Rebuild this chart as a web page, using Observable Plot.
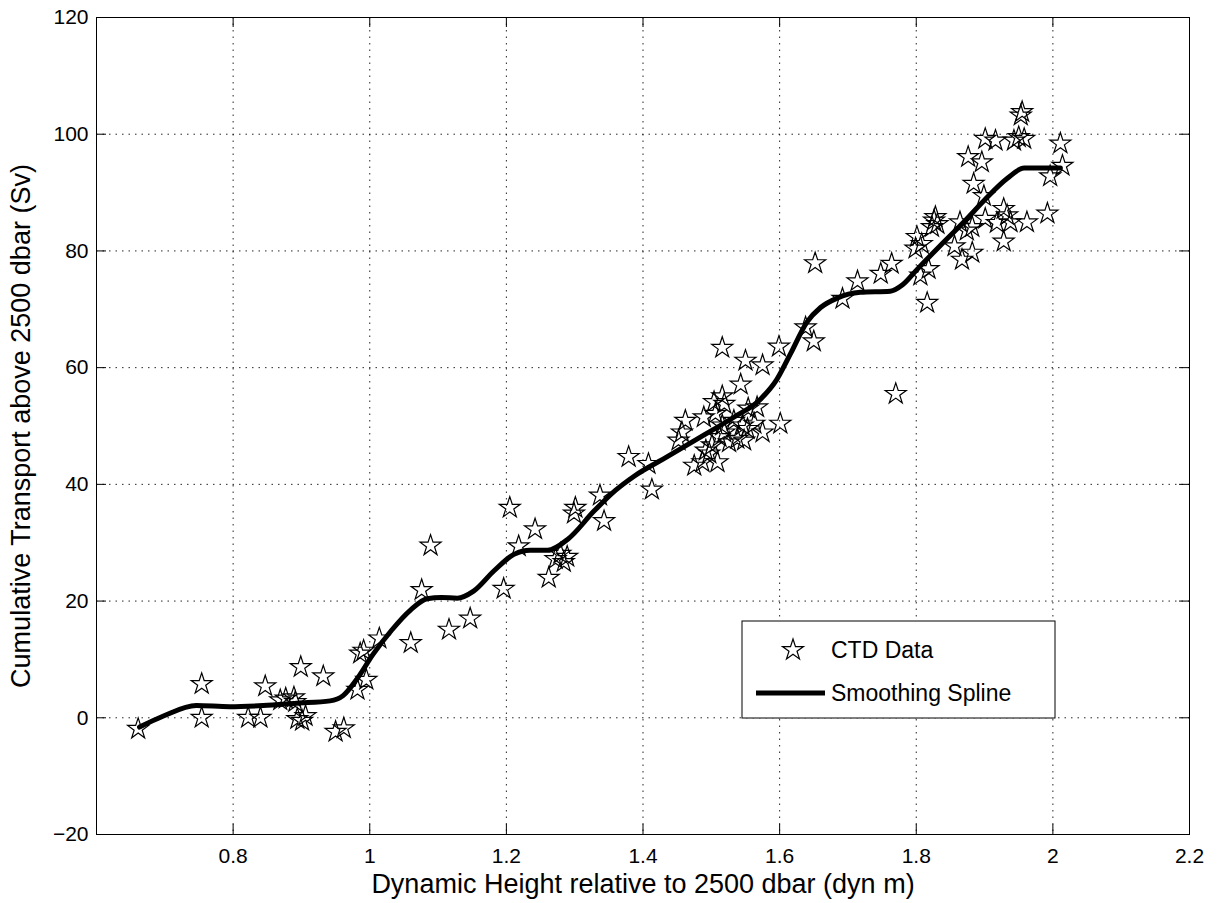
<!DOCTYPE html>
<html>
<head>
<meta charset="utf-8">
<script src="https://cdn.jsdelivr.net/npm/d3@7"></script>
<script src="https://cdn.jsdelivr.net/npm/@observablehq/plot@0.6"></script>
<style>
  html, body { margin: 0; padding: 0; background: #fff; }
  #chart { width: 1222px; height: 903px; }
</style>
</head>
<body>
<div id="chart"></div>
<script>
// CTD stations: dynamic height (dyn m) and cumulative transport (Sv)
const ctdHeight = [
  0.661, 0.754, 0.754, 0.822, 0.840, 0.847, 0.869, 0.877, 0.889, 0.891,
  0.894, 0.901, 0.906, 0.899, 0.932, 0.950, 0.962, 0.982, 0.995, 0.986,
  0.991, 1.014, 1.060, 1.076, 1.089, 1.116, 1.147, 1.196, 1.205, 1.218,
  1.242, 1.262, 1.272, 1.279, 1.284, 1.289, 1.299, 1.301, 1.337, 1.343,
  1.379, 1.408, 1.413,
  1.452, 1.457, 1.462, 1.475, 1.487, 1.489, 1.492, 1.497, 1.501, 1.504,
  1.506, 1.509, 1.512, 1.516, 1.516, 1.519, 1.519, 1.526, 1.533, 1.538,
  1.543, 1.546, 1.548, 1.553, 1.554, 1.563, 1.567, 1.575, 1.601, 1.516,
  1.550, 1.575, 1.599, 1.638, 1.650, 1.652, 1.692, 1.714, 1.748, 1.764,
  1.770, 1.816, 1.806, 1.818, 1.799, 1.808, 1.801, 1.823, 1.826, 1.831,
  1.828, 1.856, 1.867, 1.882, 1.864, 1.874, 1.882, 1.899, 1.884, 1.876,
  1.896, 1.901, 1.916, 1.943, 1.950, 1.958, 1.953, 1.955, 2.011, 2.014,
  1.996, 1.992, 1.962, 1.901, 1.918, 1.928, 1.933, 1.938, 1.928
];
const ctdTransport = [
  -1.9, 5.8, 0.0, 0.0, 0.0, 5.4, 3.0, 3.3, 3.5, 2.7,
  -0.2, -0.5, 0.3, 8.7, 7.1, -2.4, -1.8, 4.8, 6.5, 11.0,
  11.5, 13.6, 12.8, 21.9, 29.5, 15.1, 17.0, 22.1, 36.0, 29.4,
  32.3, 24.0, 27.2, 28.1, 26.7, 27.6, 35.0, 36.0, 38.1, 33.7,
  44.7, 43.5, 39.1,
  47.5, 48.9, 50.9, 43.2, 43.8, 51.5, 45.8, 45.3, 46.7, 54.1,
  52.1, 43.8, 48.1, 55.1, 50.1, 53.8, 48.9, 47.2, 50.9, 47.8,
  57.1, 50.1, 47.5, 49.5, 53.0, 50.4, 53.2, 48.9, 50.4, 63.4,
  61.2, 60.4, 63.6, 66.9, 64.5, 77.9, 71.8, 74.8, 76.1, 77.8,
  55.5, 71.1, 75.8, 76.9, 80.4, 81.2, 82.4, 84.1, 85.2, 84.6,
  85.8, 80.8, 78.5, 79.7, 84.9, 83.5, 84.1, 89.4, 91.5, 96.1,
  95.2, 99.2, 98.9, 98.9, 99.5, 99.2, 103.2, 103.8, 98.4, 94.6,
  92.8, 86.4, 84.9, 85.5, 84.8, 87.2, 86.1, 84.9, 81.6
];

// Smoothing spline evaluated along the dynamic-height range
const splineHeight = [
  0.663, 0.698, 0.746, 0.795, 0.844, 0.893, 0.942, 0.961, 0.981, 1.005,
  1.032, 1.060, 1.084, 1.105, 1.128, 1.152, 1.182, 1.211, 1.235, 1.260,
  1.290, 1.329, 1.360, 1.387, 1.435, 1.484, 1.533, 1.572, 1.596, 1.616,
  1.640, 1.660, 1.684, 1.718, 1.762, 1.780, 1.801, 1.835, 1.870, 1.899,
  1.933, 1.958, 1.987, 2.011
];
const splineTransport = [
  -1.6, 0.3, 2.1, 1.9, 2.1, 2.5, 2.9, 3.8, 6.6, 10.9,
  15.0, 18.5, 20.4, 20.6, 20.5, 21.7, 25.2, 28.0, 28.7, 28.7,
  30.6, 35.5, 39.0, 41.4, 44.7, 48.1, 51.5, 54.6, 58.0, 62.4,
  67.8, 70.3, 71.9, 72.9, 73.1, 74.2, 76.8, 80.9, 85.0, 88.6,
  92.4, 94.2, 94.2, 94.2
];

const xTicks = [0.8, 1, 1.2, 1.4, 1.6, 1.8, 2, 2.2];
const yTicks = [-20, 0, 20, 40, 60, 80, 100, 120];
const xLabel = "Dynamic Height relative to 2500 dbar (dyn m)";
const yLabel = "Cumulative Transport above 2500 dbar (Sv)";
const legendLabels = ["CTD Data", "Smoothing Spline"];

const ctd = ctdHeight.map((h, i) => ({h, t: ctdTransport[i]}));
const spline = splineHeight.map((h, i) => ({h, t: splineTransport[i]}));

const W = 1222, H = 903;
const mL = 96, mR = 33, mT = 17, mB = 69;
const innerW = W - mL - mR, innerH = H - mT - mB;
const tickLen = 10;
const starR = 6.6;
const font = "'Liberation Sans', Arial, Helvetica, sans-serif";
const tickFont = 21, labelFont = 27, legendFont = 23;
const gridStyle = {stroke: "#000", strokeOpacity: 0.85, strokeWidth: 1, strokeDasharray: "1.5,5"};
const minus = d => d < 0 ? "\u2212" + (-d) : String(d);

const chart = Plot.plot({
  width: W,
  height: H,
  marginLeft: mL,
  marginRight: mR,
  marginTop: mT,
  marginBottom: mB,
  style: {fontFamily: font, fontSize: tickFont + "px", background: "#fff", color: "#000", overflow: "visible"},
  x: {domain: [0.6, 2.2]},
  y: {domain: [-20, 120]},
  marks: [
    Plot.gridX(xTicks.slice(0, -1), gridStyle),
    Plot.gridY(yTicks.slice(1, -1), gridStyle),
    // inward ticks on all four sides
    Plot.tickX(xTicks, {x: d => d, stroke: "#000", insetTop: innerH - tickLen}),
    Plot.tickX(xTicks, {x: d => d, stroke: "#000", insetBottom: innerH - tickLen}),
    Plot.tickY(yTicks, {y: d => d, stroke: "#000", insetRight: innerW - tickLen}),
    Plot.tickY(yTicks, {y: d => d, stroke: "#000", insetLeft: innerW - tickLen}),
    Plot.dot(ctd, {x: "h", y: "t", symbol: "star", r: starR, fill: "none", stroke: "#000", strokeWidth: 1.2}),
    Plot.line(spline, {x: "h", y: "t", curve: "monotone-x", stroke: "#000", strokeWidth: 5, strokeLinejoin: "round"}),
    Plot.frame({stroke: "#000", strokeWidth: 1}),
    Plot.axisX(xTicks, {tickSize: 0, tickPadding: 14, fontSize: tickFont, label: null, tickFormat: d => String(d)}),
    Plot.axisY(yTicks, {tickSize: 0, tickPadding: 8, fontSize: tickFont, label: null, tickFormat: minus}),
    Plot.text([xLabel], {frameAnchor: "bottom", dy: 50, fontSize: labelFont, lineAnchor: "middle", textAnchor: "middle"}),
    Plot.text([yLabel], {frameAnchor: "left", dx: -75, rotate: -90, fontSize: labelFont, lineAnchor: "middle", textAnchor: "middle"})
  ]
});

// Legend box inside the axes, lower right
const svg = d3.select(chart);
const lg = svg.append("g")
  .attr("font-family", font)
  .attr("font-size", legendFont)
  .attr("text-anchor", "start");
const bx = 742, by = 621, bw = 313, bh = 97;
lg.append("rect").attr("x", bx).attr("y", by).attr("width", bw).attr("height", bh)
  .attr("fill", "#fff").attr("stroke", "#000").attr("stroke-width", 1);
lg.append("path")
  .attr("d", d3.symbol(d3.symbolStar, Math.PI * starR * starR)())
  .attr("transform", `translate(${bx + 51},${by + 29})`)
  .attr("fill", "none").attr("stroke", "#000").attr("stroke-width", 1.2);
lg.append("line").attr("x1", bx + 14).attr("x2", bx + 83).attr("y1", by + 72).attr("y2", by + 72)
  .attr("stroke", "#000").attr("stroke-width", 5);
lg.append("text").attr("x", bx + 89).attr("y", by + 29).attr("dy", "0.35em").text(legendLabels[0]);
lg.append("text").attr("x", bx + 89).attr("y", by + 72).attr("dy", "0.35em").text(legendLabels[1]);

document.getElementById("chart").appendChild(chart);
</script>
</body>
</html>
